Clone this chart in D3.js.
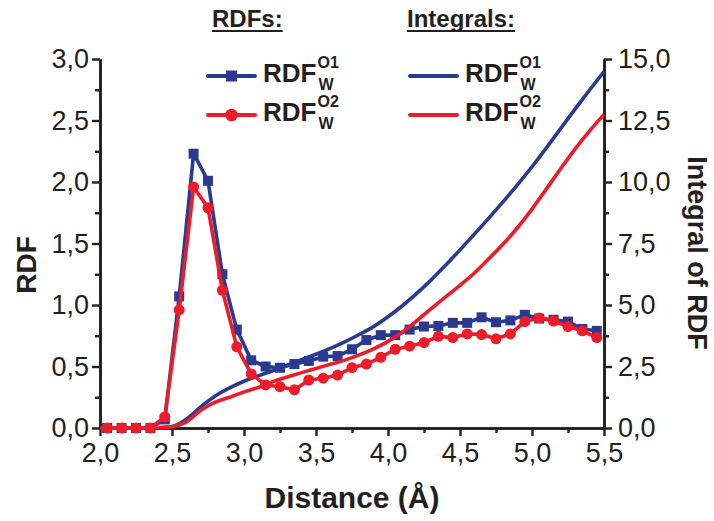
<!DOCTYPE html>
<html>
<head>
<meta charset="utf-8">
<script src="https://cdn.jsdelivr.net/npm/d3@7"></script>
<style>
  html, body { margin: 0; padding: 0; background: #fff; }
  svg { display: block; font-family: "Liberation Sans", Arial, sans-serif; }
</style>
</head>
<body>
<svg id="chart" width="714" height="521"></svg>
<script>
// Sampled distances for the RDF curves (Å)
const rdfDist = [2.05, 2.15, 2.25, 2.35, 2.45, 2.55, 2.65, 2.75, 2.85, 2.95,
                 3.05, 3.15, 3.25, 3.35, 3.45, 3.55, 3.65, 3.75, 3.85, 3.95,
                 4.05, 4.15, 4.25, 4.35, 4.45, 4.55, 4.65, 4.75, 4.85, 4.95,
                 5.05, 5.15, 5.25, 5.35, 5.45];
// RDF, water around O1
const rdfO1 = [0.0, 0.0, 0.0, 0.0, 0.07, 1.07, 2.23, 2.01, 1.25, 0.80,
               0.55, 0.50, 0.49, 0.52, 0.545, 0.58, 0.585, 0.64, 0.715, 0.755,
               0.755, 0.80, 0.825, 0.83, 0.855, 0.855, 0.90, 0.86, 0.875, 0.92,
               0.89, 0.88, 0.865, 0.805, 0.79];
// RDF, water around O2
const rdfO2 = [0.0, 0.0, 0.0, 0.0, 0.09, 0.96, 1.96, 1.79, 1.12, 0.66,
               0.44, 0.35, 0.336, 0.31, 0.39, 0.405, 0.43, 0.49, 0.52, 0.575,
               0.64, 0.665, 0.695, 0.745, 0.735, 0.765, 0.76, 0.725, 0.765, 0.865,
               0.895, 0.87, 0.825, 0.79, 0.735];

// Distances for the running integrals (Å)
const intDist = [2.0, 2.1, 2.2, 2.3, 2.4, 2.5, 2.6, 2.7, 2.8, 2.9,
                 3.0, 3.1, 3.2, 3.3, 3.4, 3.5, 3.6, 3.7, 3.8, 3.9,
                 4.0, 4.1, 4.2, 4.3, 4.4, 4.5, 4.6, 4.7, 4.8, 4.9,
                 5.0, 5.1, 5.2, 5.3, 5.4, 5.5];
const intO1 = [0, 0, 0, 0, 0.01, 0.06, 0.36, 0.86, 1.3, 1.63,
               1.9, 2.12, 2.33, 2.55, 2.78, 3.0, 3.24, 3.5, 3.8, 4.12,
               4.52, 4.97, 5.47, 6.02, 6.62, 7.24, 7.88, 8.53, 9.2, 9.89,
               10.62, 11.39, 12.18, 12.97, 13.74, 14.49];
const intO2 = [0, 0, 0, 0, 0.01, 0.05, 0.25, 0.72, 1.05, 1.25,
               1.47, 1.65, 1.88, 2.07, 2.25, 2.42, 2.59, 2.76, 2.97, 3.22,
               3.52, 3.9, 4.36, 4.85, 5.33, 5.8, 6.3, 6.88, 7.48, 8.15,
               8.9, 9.72, 10.55, 11.35, 12.08, 12.75];

const xTicks = [2.0, 2.5, 3.0, 3.5, 4.0, 4.5, 5.0, 5.5];
const yTicks = [0.0, 0.5, 1.0, 1.5, 2.0, 2.5, 3.0];
const y2Ticks = [0.0, 2.5, 5.0, 7.5, 10.0, 12.5, 15.0];

const BLUE = "#2b3a91";
const RED = "#ec1c2a";
const INK = "#231f20";

const svg = d3.select("#chart");
const plotLeft = 100, plotRight = 604, plotTop = 59, plotBottom = 428;

const x = d3.scaleLinear().domain([2.0, 5.5]).range([plotLeft, plotRight]);
const y = d3.scaleLinear().domain([0, 3.0]).range([plotBottom, plotTop]);
const y2 = d3.scaleLinear().domain([0, 15.0]).range([plotBottom, plotTop]);

const fmt = d => d3.format(".1f")(d).replace(".", ",");

// Axes: major ticks with labels, minor ticks between them
function styleAxis(g) {
  g.select(".domain").attr("stroke", INK).attr("stroke-width", 2.6);
  g.selectAll(".tick line").attr("stroke", INK).attr("stroke-width", 2.4);
  g.selectAll(".tick text").attr("fill", INK)
    .style("font-size", "27px").style("font-family", "'Liberation Sans', Arial, sans-serif");
}
const minorX = [2.25, 2.75, 3.25, 3.75, 4.25, 4.75, 5.25];
const minorY = [0.25, 0.75, 1.25, 1.75, 2.25, 2.75];

svg.append("g").attr("transform", `translate(0,${plotBottom})`)
  .call(d3.axisBottom(x).tickValues(xTicks).tickFormat(fmt).tickSize(8).tickSizeOuter(0).tickPadding(7))
  .call(styleAxis);
svg.append("g").attr("transform", `translate(0,${plotBottom})`)
  .call(d3.axisBottom(x).tickValues(minorX).tickFormat("").tickSize(5).tickSizeOuter(0))
  .call(styleAxis);

svg.append("g").attr("transform", `translate(${plotLeft},0)`)
  .call(d3.axisLeft(y).tickValues(yTicks).tickFormat(fmt).tickSize(8).tickSizeOuter(0).tickPadding(3))
  .call(styleAxis);
svg.append("g").attr("transform", `translate(${plotLeft},0)`)
  .call(d3.axisLeft(y).tickValues(minorY).tickFormat("").tickSize(5).tickSizeOuter(0))
  .call(styleAxis);

svg.append("g").attr("transform", `translate(${plotRight},0)`)
  .call(d3.axisRight(y2).tickValues(y2Ticks).tickFormat(fmt).tickSize(8).tickSizeOuter(0).tickPadding(6))
  .call(styleAxis);
svg.append("g").attr("transform", `translate(${plotRight},0)`)
  .call(d3.axisRight(y).tickValues(minorY).tickFormat("").tickSize(5).tickSizeOuter(0))
  .call(styleAxis);

// Axis titles
svg.append("text").attr("x", 352).attr("y", 508).attr("text-anchor", "middle")
  .attr("fill", INK).style("font-size", "30px").style("font-weight", "bold")
  .text("Distance (Å)");
svg.append("text").attr("transform", "translate(36,265) rotate(-90)").attr("text-anchor", "middle")
  .attr("fill", INK).style("font-size", "28px").style("font-weight", "bold")
  .text("RDF");
svg.append("text").attr("transform", "translate(688,253) rotate(90)").attr("text-anchor", "middle")
  .attr("fill", INK).style("font-size", "27px").style("font-weight", "bold")
  .text("Integral of RDF");

// Curves
const rdfLine = d3.line().x((d, i) => x(rdfDist[i])).y(d => y(d));
const intLine = d3.line().x((d, i) => x(intDist[i])).y(d => y2(d)).curve(d3.curveMonotoneX);

const plot = svg.append("g");

function drawRdf(values, color, marker) {
  plot.append("path").datum(values).attr("d", rdfLine)
    .attr("fill", "none").attr("stroke", color).attr("stroke-width", 3.6)
    .attr("stroke-linejoin", "round");
  if (marker === "square") {
    plot.append("g").selectAll("rect").data(values).join("rect")
      .attr("x", (d, i) => x(rdfDist[i]) - 5).attr("y", d => y(d) - 5)
      .attr("width", 10).attr("height", 10).attr("fill", color);
  } else {
    plot.append("g").selectAll("circle").data(values).join("circle")
      .attr("cx", (d, i) => x(rdfDist[i])).attr("cy", d => y(d))
      .attr("r", 5.5).attr("fill", color);
  }
}
function drawIntegral(values, color) {
  plot.append("path").datum(values).attr("d", intLine)
    .attr("fill", "none").attr("stroke", color).attr("stroke-width", 3.6);
}

drawRdf(rdfO1, BLUE, "square");
drawIntegral(intO1, BLUE);
drawRdf(rdfO2, RED, "circle");
drawIntegral(intO2, RED);

// Legend
const legend = svg.append("g");
function heading(xPos, label) {
  const t = legend.append("text").attr("x", xPos).attr("y", 27)
    .attr("fill", INK).style("font-size", "24px").style("font-weight", "bold").text(label);
  const w = t.node().getComputedTextLength();
  legend.append("line").attr("x1", xPos).attr("x2", xPos + w).attr("y1", 31).attr("y2", 31)
    .attr("stroke", INK).attr("stroke-width", 2);
}
heading(212, "RDFs:");
heading(407, "Integrals:");

function entry(x0, yLine, yBase, color, marker, sup) {
  legend.append("line").attr("x1", x0).attr("x2", x0 + 47).attr("y1", yLine).attr("y2", yLine)
    .attr("stroke", color).attr("stroke-width", 4).attr("stroke-linecap", "round");
  if (marker === "square") {
    legend.append("rect").attr("x", x0 + 23.5 - 5.5).attr("y", yLine - 5.5)
      .attr("width", 11).attr("height", 11).attr("fill", color);
  } else if (marker === "circle") {
    legend.append("circle").attr("cx", x0 + 23.5).attr("cy", yLine).attr("r", 6.3).attr("fill", color);
  }
  const tx = x0 + 55;
  const t = legend.append("text").attr("x", tx).attr("y", yBase)
    .attr("fill", INK).style("font-size", "26px").style("font-weight", "bold").text("RDF");
  const w = t.node().getComputedTextLength();
  legend.append("text").attr("x", tx + w + 1).attr("y", yBase - 14)
    .attr("fill", INK).style("font-size", "16px").style("font-weight", "bold").text(sup);
  legend.append("text").attr("x", tx + w + 2).attr("y", yBase + 8)
    .attr("fill", INK).style("font-size", "16px").style("font-weight", "bold").text("W");
}
entry(208, 76, 82, BLUE, "square", "O1");
entry(208, 115, 121, RED, "circle", "O2");
entry(410, 76, 82, BLUE, null, "O1");
entry(410, 115, 121, RED, null, "O2");
</script>
</body>
</html>
